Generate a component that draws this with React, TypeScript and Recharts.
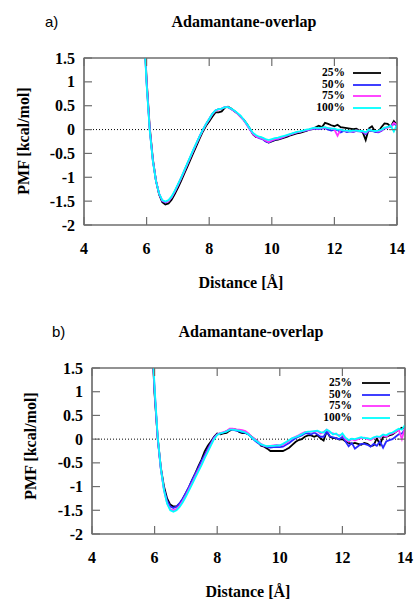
import { LineChart, Line, XAxis, YAxis, ReferenceLine, ReferenceArea } from 'recharts'

// distance grid [Å]
const distances = [
  5.9, 6.0, 6.1, 6.2, 6.3, 6.4, 6.5, 6.6, 6.7, 6.8,
  6.9, 7.0, 7.1, 7.2, 7.3, 7.4, 7.5, 7.6, 7.7, 7.8,
  7.9, 8.0, 8.1, 8.2, 8.3, 8.4, 8.5, 8.6, 8.7, 8.8,
  8.9, 9.0, 9.1, 9.2, 9.3, 9.4, 9.5, 9.6, 9.7, 9.8,
  9.9, 10.0, 10.1, 10.2, 10.3, 10.4, 10.5, 10.6, 10.7, 10.8,
  10.9, 11.0, 11.1, 11.2, 11.3, 11.4, 11.5, 11.6, 11.7, 11.8,
  11.9, 12.0, 12.1, 12.2, 12.3, 12.4, 12.5, 12.6, 12.7, 12.8,
  12.9, 13.0, 13.1, 13.2, 13.3, 13.4, 13.5, 13.6, 13.7, 13.8,
  13.9, 14.0,
]

// panel a) PMF [kcal/mol]
const a25 = [
  2.4, 1.05, 0.05, -0.62, -1.07, -1.36, -1.52, -1.57, -1.55, -1.47,
  -1.35, -1.22, -1.08, -0.93, -0.78, -0.63, -0.48, -0.33, -0.18, -0.04,
  0.08, 0.17, 0.27, 0.36, 0.36, 0.38, 0.46, 0.48, 0.44, 0.39,
  0.34, 0.27, 0.21, 0.12, 0.02, -0.1, -0.16, -0.16, -0.18, -0.24,
  -0.27, -0.25, -0.22, -0.21, -0.19, -0.17, -0.15, -0.12, -0.1, -0.08,
  -0.07, -0.05, -0.03, 0.0, 0.01, 0.05, 0.08, 0.05, 0.14, 0.12,
  0.09, 0.07, 0.1, 0.05, 0.04, 0.03, 0.02, 0.01, 0.02, -0.02,
  -0.05, -0.22, 0.02, 0.07, -0.04, -0.05, 0.05, 0.13, 0.12, 0.06,
  0.18, 0.1,
]
const a50 = [
  2.3, 0.98, 0.0, -0.65, -1.08, -1.35, -1.5, -1.53, -1.5, -1.42,
  -1.3, -1.16, -1.02, -0.87, -0.72, -0.57, -0.42, -0.28, -0.13, 0.0,
  0.12, 0.22, 0.33, 0.4, 0.43, 0.44, 0.47, 0.47, 0.43, 0.39,
  0.34, 0.28, 0.2, 0.11, 0.0, -0.09, -0.15, -0.18, -0.2, -0.25,
  -0.27, -0.24, -0.21, -0.2, -0.18, -0.15, -0.13, -0.1, -0.08, -0.06,
  -0.05, -0.03, -0.02, 0.0, 0.01, 0.02, 0.01, 0.02, 0.03, 0.0,
  -0.02, 0.0, -0.01, -0.06, -0.03, -0.05, -0.04, -0.05, -0.03, -0.04,
  -0.05, -0.1, -0.02, -0.03, -0.05, -0.06, -0.03, 0.02, 0.05, 0.06,
  0.12, 0.08,
]
const a75 = [
  2.32, 1.0, 0.01, -0.64, -1.07, -1.34, -1.49, -1.52, -1.5, -1.42,
  -1.3, -1.17, -1.03, -0.88, -0.73, -0.58, -0.43, -0.28, -0.14, -0.01,
  0.11, 0.21, 0.32, 0.39, 0.42, 0.44, 0.47, 0.47, 0.43, 0.39,
  0.34, 0.27, 0.2, 0.1, 0.0, -0.09, -0.15, -0.17, -0.19, -0.23,
  -0.26, -0.23, -0.2, -0.19, -0.17, -0.15, -0.12, -0.1, -0.08, -0.06,
  -0.05, -0.03, -0.01, 0.0, 0.02, 0.03, 0.02, 0.03, 0.04, 0.03,
  0.02, 0.0, -0.13, 0.0, -0.02, -0.03, -0.03, -0.04, -0.02, -0.03,
  -0.04, -0.08, 0.0, -0.02, -0.03, -0.04, -0.02, 0.03, 0.04, 0.06,
  0.14, 0.1,
]
const a100 = [
  2.25, 0.95, -0.02, -0.66, -1.08, -1.34, -1.48, -1.51, -1.48, -1.4,
  -1.28, -1.15, -1.01, -0.86, -0.71, -0.56, -0.41, -0.27, -0.13, 0.0,
  0.12, 0.22, 0.33, 0.4, 0.43, 0.44, 0.47, 0.47, 0.44, 0.4,
  0.35, 0.29, 0.21, 0.12, 0.02, -0.07, -0.12, -0.15, -0.17, -0.2,
  -0.22, -0.2, -0.18, -0.17, -0.15, -0.13, -0.11, -0.09, -0.07, -0.05,
  -0.04, -0.02, 0.0, 0.01, 0.03, 0.04, 0.03, 0.04, 0.05, 0.03,
  0.02, 0.02, 0.0, 0.0, -0.02, -0.02, -0.03, -0.02, -0.02, -0.03,
  -0.03, -0.06, 0.0, -0.02, -0.03, -0.02, 0.0, 0.04, 0.05, 0.08,
  -0.04, 0.1,
]

// panel b)
const b25 = [
  2.3, 0.95, 0.02, -0.6, -1.0, -1.25, -1.38, -1.42, -1.42, -1.36,
  -1.26, -1.14, -1.01, -0.86, -0.72, -0.57, -0.43, -0.26, -0.14, -0.05,
  0.05, 0.12, 0.1, 0.12, 0.13, 0.18, 0.21, 0.2, 0.15, 0.13,
  0.13, 0.1, 0.05, 0.0, -0.05, -0.14, -0.16, -0.2, -0.25, -0.25,
  -0.25, -0.25, -0.25, -0.22, -0.18, -0.12, -0.06, -0.02, 0.0, 0.05,
  0.08, 0.08, 0.05, 0.08, 0.02, -0.03, 0.16, 0.05, 0.02, 0.02,
  -0.01, 0.0, -0.05, -0.08, -0.1, -0.08, -0.1, -0.12, -0.08, -0.1,
  -0.15, -0.13, 0.02, -0.12, 0.05, 0.05, 0.08, 0.1, 0.15, 0.2,
  0.24, 0.22,
]
const b50 = [
  2.35, 1.0, 0.0, -0.63, -1.05, -1.3, -1.42, -1.45, -1.42, -1.35,
  -1.25, -1.13, -1.0, -0.86, -0.73, -0.6, -0.46, -0.33, -0.2, -0.08,
  0.04, 0.1, 0.12, 0.14, 0.17, 0.2, 0.2, 0.18, 0.17, 0.15,
  0.13, 0.1, 0.03, -0.03, -0.08, -0.12, -0.15, -0.17, -0.18, -0.17,
  -0.17, -0.17, -0.16, -0.12, -0.08, -0.03, 0.02, 0.05, 0.08, 0.12,
  0.12, 0.1, 0.14, 0.1, 0.05, 0.05, 0.16, 0.06, 0.04, 0.02,
  0.0, 0.05, -0.05, -0.15, -0.08, -0.2, -0.15, -0.1, -0.1, -0.12,
  -0.16, -0.1, -0.14, -0.05, -0.18, -0.05, -0.02, 0.0, 0.05, 0.1,
  0.12, 0.2,
]
const b75 = [
  2.4, 1.05, 0.03, -0.63, -1.08, -1.35, -1.48, -1.5, -1.47, -1.4,
  -1.3, -1.18, -1.05, -0.92, -0.78, -0.65, -0.52, -0.38, -0.24, -0.11,
  0.02, 0.1, 0.13, 0.15, 0.17, 0.22, 0.22, 0.2, 0.2, 0.19,
  0.17, 0.12, 0.05, 0.0, -0.05, -0.1, -0.14, -0.15, -0.14, -0.13,
  -0.12, -0.13, -0.12, -0.08, -0.03, 0.02, 0.05, 0.08, 0.12, 0.15,
  0.15, 0.16, 0.16, 0.17, 0.12, 0.15, 0.2, 0.14, 0.12, 0.1,
  0.08, 0.1, 0.0, -0.05, 0.0, -0.03, 0.0, 0.02, 0.03, 0.0,
  -0.02, 0.02, 0.05, 0.03, 0.08, 0.05, 0.1, 0.12, 0.15, 0.2,
  0.0, 0.25,
]
const b100 = [
  2.45, 1.08, 0.05, -0.62, -1.08, -1.36, -1.5, -1.53, -1.5, -1.43,
  -1.33, -1.21, -1.08, -0.95, -0.81, -0.68, -0.55, -0.4, -0.27, -0.13,
  0.0, 0.09, 0.12, 0.14, 0.16, 0.2, 0.2, 0.19, 0.18, 0.16,
  0.14, 0.1, 0.04, -0.02, -0.06, -0.11, -0.13, -0.15, -0.14, -0.14,
  -0.13, -0.13, -0.1, -0.06, -0.02, 0.02, 0.04, 0.07, 0.1, 0.14,
  0.16, 0.16, 0.17, 0.18, 0.15, 0.14, 0.2, 0.16, 0.1, 0.12,
  0.06, 0.12, 0.03, -0.02, 0.01, 0.0, 0.02, 0.04, 0.02, 0.02,
  0.0, 0.04, 0.06, 0.05, 0.1, 0.08, 0.12, 0.14, 0.18, 0.22,
  0.2, 0.3,
]

const xTicks = [4, 6, 8, 10, 12, 14]
const yTicks = [-2, -1.5, -1, -0.5, 0, 0.5, 1, 1.5]
const seriesNames = ['25%', '50%', '75%', '100%']
const seriesColors = ['#000000', '#2a2aff', '#ff33ff', '#00ffff']

const serif = 'Liberation Serif, serif'
const frame = '#6e6e6e'
const TICK = 8

const buildRows = (s: number[][]) =>
  distances.map((d, i) => ({ d, s0: s[0][i], s1: s[1][i], s2: s[2][i], s3: s[3][i] }))

type TickProps = { x?: number; y?: number; payload?: { value: number } }

// inward ticks (gnuplot style) drawn with their labels
const LeftTick = ({ x = 0, y = 0, payload }: TickProps) => (
  <g>
    <path d={`M${x},${y}H${x + TICK}`} stroke={frame} strokeWidth={1.2} fill="none" />
    <text x={x - 9} y={y} dy="0.35em" textAnchor="end" fontFamily={serif} fontWeight="bold" fontSize={16} fill="#000">
      {payload?.value}
    </text>
  </g>
)
const RightTick = ({ x = 0, y = 0 }: TickProps) => (
  <path d={`M${x - TICK},${y}H${x}`} stroke={frame} strokeWidth={1.2} fill="none" />
)
const BottomTick = ({ x = 0, y = 0, payload }: TickProps) => (
  <g>
    <path d={`M${x},${y - TICK}V${y}`} stroke={frame} strokeWidth={1.2} fill="none" />
    <text x={x} y={y + 29} textAnchor="middle" fontFamily={serif} fontWeight="bold" fontSize={16} fill="#000">
      {payload?.value}
    </text>
  </g>
)
const TopTick = ({ x = 0, y = 0 }: TickProps) => (
  <path d={`M${x},${y}V${y + TICK}`} stroke={frame} strokeWidth={1.2} fill="none" />
)

interface PanelProps {
  top: number
  height: number
  letter: string
  margin: { top: number; right: number; bottom: number; left: number }
  series: number[][]
  titleX: number
  titleY: number
  letterX: number
  xLabelX: number
  xLabelY: number
  yLabelX: number
  yLabelY: number
  legendRight: number
  legendLineX: number
  legendY: number
}

function Panel(p: PanelProps) {
  const rows = buildRows(p.series)
  const textStyle = { position: 'absolute' as const, fontFamily: serif, fontWeight: 'bold', fontSize: 16, whiteSpace: 'nowrap' as const, lineHeight: 1 }
  // axes take 1px each; margins are reduced to keep the plot box in place
  const m = { top: p.margin.top - 1, right: p.margin.right - 1, bottom: p.margin.bottom - 1, left: p.margin.left - 1 }
  return (
    <div style={{ position: 'absolute', left: 0, top: p.top, width: 418, height: p.height }}>
      <LineChart width={418} height={p.height} data={rows} margin={m}>
        <XAxis
          dataKey="d" type="number" domain={[4, 14]} ticks={xTicks} allowDataOverflow
          height={1} tickSize={0} tickMargin={0} interval={0}
          axisLine={{ stroke: frame, strokeWidth: 1.2 }} tickLine={false} tick={<BottomTick />}
        />
        <XAxis
          xAxisId="top" orientation="top" dataKey="d" type="number" domain={[4, 14]} ticks={xTicks}
          allowDataOverflow height={1} tickSize={0} tickMargin={0} interval={0}
          axisLine={{ stroke: frame, strokeWidth: 1.2 }} tickLine={false} tick={<TopTick />}
        />
        <YAxis
          type="number" domain={[-2, 1.5]} ticks={yTicks} allowDataOverflow
          width={1} tickSize={0} tickMargin={0} interval={0}
          axisLine={{ stroke: frame, strokeWidth: 1.2 }} tickLine={false} tick={<LeftTick />}
        />
        <YAxis
          yAxisId="right" orientation="right" type="number" domain={[-2, 1.5]} ticks={yTicks}
          allowDataOverflow width={1} tickSize={0} tickMargin={0} interval={0}
          axisLine={{ stroke: frame, strokeWidth: 1.2 }} tickLine={false} tick={<RightTick />}
        />
        <ReferenceArea x1={4} x2={14} y1={-2} y2={1.5} fill="#ffffff" fillOpacity={0} stroke={frame} strokeWidth={1.2} strokeOpacity={1} ifOverflow="visible" />
        <ReferenceLine y={0} stroke="#000" strokeWidth={1} strokeDasharray="1 2" />
        {seriesNames.map((n, i) => (
          <Line
            key={n} dataKey={`s${i}`} name={n} type="linear"
            stroke={seriesColors[i]} strokeWidth={1.8} dot={false}
            isAnimationActive={false}
          />
        ))}
      </LineChart>

      <div style={{ ...textStyle, fontWeight: 'normal', fontFamily: 'Liberation Sans, Arial, sans-serif', fontSize: 15, left: p.letterX, top: p.titleY - 13 }}>
        {p.letter}
      </div>
      <div style={{ ...textStyle, left: p.titleX, top: p.titleY - 13, transform: 'translateX(-50%)' }}>
        Adamantane-overlap
      </div>
      <div style={{ ...textStyle, left: p.xLabelX, top: p.xLabelY - 13, transform: 'translateX(-50%)' }}>
        Distance [Å]
      </div>
      <div style={{ ...textStyle, left: p.yLabelX, top: p.yLabelY, transform: 'translate(-50%, -50%) rotate(-90deg)' }}>
        PMF [kcal/mol]
      </div>

      {seriesNames.map((n, i) => (
        <div key={n} style={{ position: 'absolute', left: 0, top: p.legendY + i * 11.6 - 5, width: 418, height: 10 }}>
          <div style={{ ...textStyle, fontSize: 11.5, right: 418 - p.legendRight, top: -1 }}>{n}</div>
          <svg style={{ position: 'absolute', left: p.legendLineX, top: 0 }} width={30} height={10}>
            <line x1={0} y1={5} x2={28} y2={5} stroke={seriesColors[i]} strokeWidth={1.8} />
          </svg>
        </div>
      ))}
    </div>
  )
}

export default function App() {
  return (
    <div style={{ position: 'absolute', left: 0, top: 0, width: 418, height: 601, background: '#fff', overflow: 'hidden' }}>
      <Panel
        top={0} height={300} letter="a)"
        margin={{ top: 58, right: 21, bottom: 75, left: 84 }}
        series={[a25, a50, a75, a100]}
        titleX={244} titleY={27} letterX={45}
        xLabelX={241} xLabelY={288}
        yLabelX={24} yLabelY={141}
        legendRight={345} legendLineX={353} legendY={73}
      />
      <Panel
        top={300} height={301} letter="b)"
        margin={{ top: 68, right: 13, bottom: 67, left: 92 }}
        series={[b25, b50, b75, b100]}
        titleX={251} titleY={37} letterX={52}
        xLabelX={248} xLabelY={297}
        yLabelX={31} yLabelY={146}
        legendRight={352} legendLineX={362} legendY={83}
      />
    </div>
  )
}
